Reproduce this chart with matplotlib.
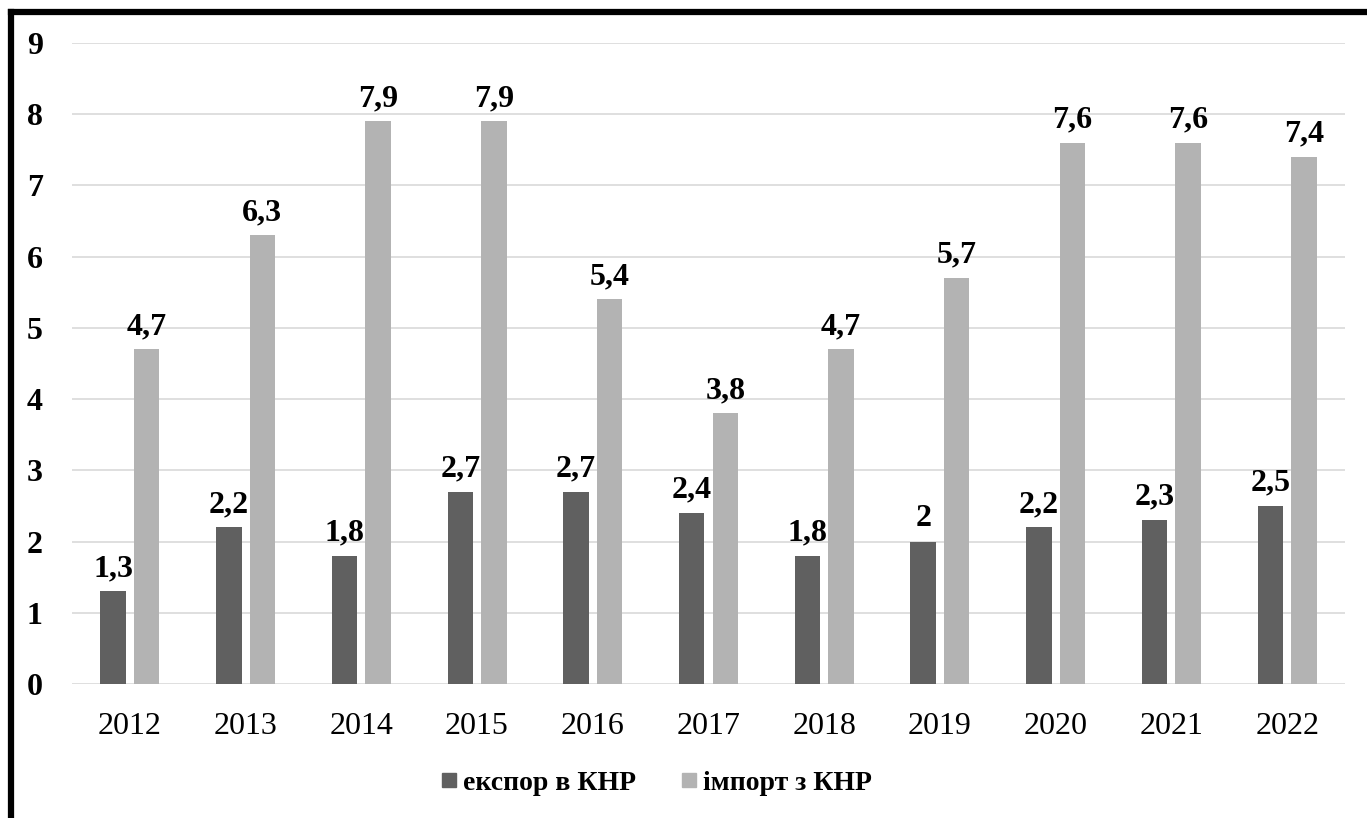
import numpy as np
import matplotlib
matplotlib.use("Agg")
import matplotlib.pyplot as plt
from matplotlib.lines import Line2D

years = ["2012", "2013", "2014", "2015", "2016", "2017", "2018", "2019", "2020", "2021", "2022"]
export_cn = [1.3, 2.2, 1.8, 2.7, 2.7, 2.4, 1.8, 2.0, 2.2, 2.3, 2.5]
import_cn = [4.7, 6.3, 7.9, 7.9, 5.4, 3.8, 4.7, 5.7, 7.6, 7.6, 7.4]
series_names = ["експор в КНР", "імпорт з КНР"]
colors = ["#606060", "#b3b3b3"]

plt.rcParams['font.family'] = ['Liberation Serif', 'DejaVu Serif']

W, H = 1367, 818
fig = plt.figure(figsize=(W / 100, H / 100), dpi=100)
ax = fig.add_axes([72 / W, 1 - 684 / H, (1345 - 72) / W, (684 - 43) / H])

x = np.arange(len(years))
bw = 0.22
off = 0.145


def fmt(v):
    s = f"{v:.1f}".replace(".", ",")
    return s[:-2] if s.endswith(",0") else s


for vals, dx, c in [(export_cn, -off, colors[0]), (import_cn, off, colors[1])]:
    bars = ax.bar(x + dx, vals, width=bw, color=c, zorder=3)
    for b, v in zip(bars, vals):
        ax.annotate(fmt(v), (b.get_x() + b.get_width() / 2, v), xytext=(0, 6),
                    textcoords="offset points", ha="center", va="bottom",
                    fontsize=23, fontweight="bold", zorder=4)

ax.set_xlim(-0.5, len(years) - 0.5)
ax.set_ylim(0, 9)
ax.set_yticks(range(0, 10))
ax.set_xticks(x)
ax.set_xticklabels(years)
ax.tick_params(axis="both", length=0, labelsize=23)
ax.tick_params(axis="y", pad=21)
ax.tick_params(axis="x", pad=20)
for lbl in ax.get_yticklabels():
    lbl.set_fontweight("bold")
ax.grid(axis="y", color="#d9d9d9", linewidth=1.2, zorder=0)
for s in ax.spines.values():
    s.set_visible(False)

handles = [Line2D([], [], marker="s", linestyle="none", markersize=10,
                  markerfacecolor=c, markeredgecolor=c) for c in colors]
fig.legend(handles, series_names, loc="center", bbox_to_anchor=(655 / W, 1 - 783 / H),
           ncol=2, frameon=False, prop={"weight": "bold", "size": 20},
           handletextpad=0.1, columnspacing=1.5, handlelength=0.8)

# outer frame (only the left and top edges are visible)
fig.add_artist(Line2D([11 / W, 11 / W], [0, 1 - 12 / H], transform=fig.transFigure,
                      color="black", linewidth=4.5, solid_capstyle="projecting"))
fig.add_artist(Line2D([11 / W, 1], [1 - 12 / H, 1 - 12 / H], transform=fig.transFigure,
                      color="black", linewidth=4.5, solid_capstyle="projecting"))

fig.savefig("out.png", dpi=100)
